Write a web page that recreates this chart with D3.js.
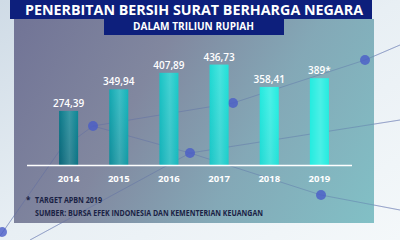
<!DOCTYPE html>
<html><head><meta charset="utf-8">
<script src="https://cdn.jsdelivr.net/npm/d3@7"></script>
<style>
html,body{margin:0;padding:0;background:#e4ecf2;overflow:hidden}
svg{display:block;font-family:"Open Sans","DejaVu Sans",sans-serif}
</style></head>
<body>
<svg id="c" width="400" height="240"></svg>
<script>
const years = ["2014","2015","2016","2017","2018","2019"];
const values = [274.39, 349.94, 407.89, 436.73, 358.41, 389];
const valueLabels = ["274,39","349,94","407,89","436,73","358,41","389*"];
const title = "PENERBITAN BERSIH SURAT BERHARGA NEGARA";
const subtitle = "DALAM TRILIUN RUPIAH";
const notes = ["TARGET APBN 2019", "SUMBER: BURSA EFEK INDONESIA DAN KEMENTERIAN KEUANGAN"];

const svg = d3.select("#c");
const defs = svg.append("defs");

// background gradient
const bg = defs.append("linearGradient").attr("id","bg").attr("x1","0").attr("y1","0").attr("x2","1").attr("y2","1");
bg.append("stop").attr("offset","0").attr("stop-color","#cfdbe6");
bg.append("stop").attr("offset","0.5").attr("stop-color","#e8eff4");
bg.append("stop").attr("offset","1").attr("stop-color","#f4f8fa");
svg.append("rect").attr("width",400).attr("height",240).attr("fill","url(#bg)");

// panel gradient
const pg = defs.append("linearGradient").attr("id","pg").attr("gradientUnits","userSpaceOnUse")
  .attr("x1",14).attr("y1",20).attr("x2",374).attr("y2",222);
pg.append("stop").attr("offset","0").attr("stop-color","#6a6c90");
pg.append("stop").attr("offset","0.35").attr("stop-color","#7a8099");
pg.append("stop").attr("offset","0.65").attr("stop-color","#7ca3b2");
pg.append("stop").attr("offset","1").attr("stop-color","#79bcc2");

// decorative network behind panel
const decoLines = [[[0,236],[60,150],[93,126],[233,103],[365,60],[400,45]],
                   [[93,126],[190,153],[321,195],[400,210]],
                   [[30,240],[190,153],[400,120]]];
const decoDots = [[2,232],[365,60],[321,195]];
const line = d3.line();
svg.append("g").selectAll("path").data(decoLines).join("path")
  .attr("d",line).attr("fill","none").attr("stroke","#7f8fc0").attr("stroke-opacity",0.6).attr("stroke-width",0.8);

svg.append("rect").attr("x",14).attr("y",19).attr("width",360).attr("height",204)
  .attr("fill","url(#pg)").attr("opacity",0.93);

// deco lines over panel, faint
svg.append("g").selectAll("path").data(decoLines).join("path")
  .attr("d",line).attr("fill","none").attr("stroke","#5a6aa8").attr("stroke-opacity",0.45).attr("stroke-width",0.8);
const innerDots = [[93,126],[190,153],[233,103]];
svg.append("g").selectAll("circle").data(innerDots.concat(decoDots)).join("circle")
  .attr("cx",d=>d[0]).attr("cy",d=>d[1]).attr("r",5).attr("fill","#4a5cc8").attr("opacity",0.8);

// title banners
svg.append("rect").attr("x",10).attr("y",0).attr("width",362).attr("height",19).attr("fill","#0d1f7c");
svg.append("rect").attr("x",104).attr("y",18).attr("width",180).attr("height",17).attr("fill","#0d1f7c");
svg.append("text").attr("x",194).attr("y",15).attr("text-anchor","middle").attr("fill","#fff")
  .attr("font-size",15).attr("font-weight",700).attr("textLength",338).attr("lengthAdjust","spacingAndGlyphs").text(title);
svg.append("text").attr("x",193.5).attr("y",30).attr("text-anchor","middle").attr("fill","#fff")
  .attr("font-size",10.5).attr("font-weight",700).attr("textLength",121).attr("lengthAdjust","spacingAndGlyphs").text(subtitle);

// scales
const x = d3.scaleBand().domain(years).range([34,354]).paddingInner(0.62).paddingOuter(0.5);
const y = d3.scaleLinear().domain([83,450]).range([165.5,60.8]);

// bar gradient
const bgrad = defs.append("linearGradient").attr("id","bar").attr("gradientUnits","userSpaceOnUse")
  .attr("x1",40).attr("y1",170).attr("x2",250).attr("y2",60);
bgrad.append("stop").attr("offset","0").attr("stop-color","#07546a");
bgrad.append("stop").attr("offset","0.45").attr("stop-color","#14b0b8");
bgrad.append("stop").attr("offset","1").attr("stop-color","#24ece0");
const hl = defs.append("linearGradient").attr("id","hl").attr("x1","0").attr("x2","1");
hl.append("stop").attr("offset","0").attr("stop-color","#fff").attr("stop-opacity",0);
hl.append("stop").attr("offset","0.55").attr("stop-color","#fff").attr("stop-opacity",0.18);
hl.append("stop").attr("offset","1").attr("stop-color","#fff").attr("stop-opacity",0);

const data = years.map((yr,i)=>({yr, v:values[i], lab:valueLabels[i]}));
const g = svg.append("g");
g.selectAll("rect.bar").data(data).join("rect").attr("class","bar")
  .attr("x",d=>x(d.yr)).attr("width",x.bandwidth())
  .attr("y",d=>y(d.v)).attr("height",d=>y.range()[0]-y(d.v)).attr("fill","url(#bar)");
g.selectAll("rect.hl").data(data).join("rect").attr("class","hl")
  .attr("x",d=>x(d.yr)).attr("width",x.bandwidth())
  .attr("y",d=>y(d.v)).attr("height",d=>y.range()[0]-y(d.v)).attr("fill","url(#hl)");
g.selectAll("text.val").data(data).join("text").attr("class","val")
  .attr("x",d=>x(d.yr)+x.bandwidth()/2).attr("y",d=>y(d.v)-4)
  .attr("text-anchor","middle").attr("fill","#fff").attr("font-size",10).attr("font-weight",600)
  .text(d=>d.lab);

// axis baseline
const ax = svg.append("g").attr("transform","translate(0,165.5)")
  .call(d3.axisBottom(x).tickSize(0).tickPadding(10));
ax.select(".domain").attr("stroke","#ffffff").attr("stroke-width",1.6).attr("d","M27,0H352");
ax.selectAll("text").attr("fill","#fff").attr("font-size",9.5).attr("font-weight",700)
  .attr("font-family","'Open Sans',sans-serif");

// notes
svg.append("text").attr("x",26).attr("y",203).attr("fill","#1a2244").attr("font-size",8).attr("font-weight",700).text("*");
svg.selectAll("text.note").data(notes).join("text").attr("class","note")
  .attr("x",35).attr("y",(d,i)=>203+i*12.7).attr("fill","#1a2244").attr("font-size",8).attr("font-weight",700)
  .attr("textLength",(d,i)=>i===0?67:228).attr("lengthAdjust","spacingAndGlyphs").text(d=>d);
</script>
</body></html>
